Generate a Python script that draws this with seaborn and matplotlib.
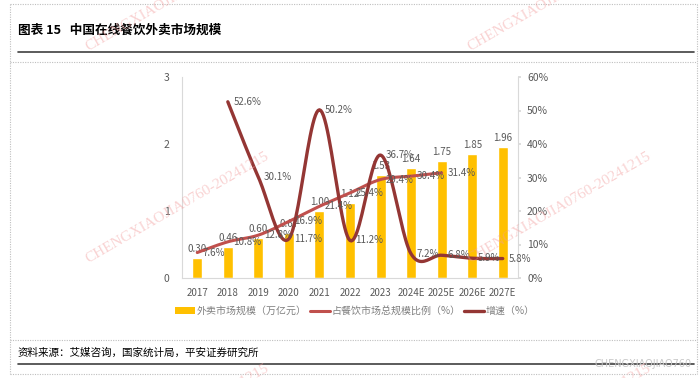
import numpy as np
import matplotlib
matplotlib.use('Agg')
import matplotlib.pyplot as plt
import seaborn as sns
from matplotlib.lines import Line2D
from matplotlib.patches import Patch
from matplotlib.ticker import FuncFormatter

# 数据
years = ['2017', '2018', '2019', '2020', '2021', '2022', '2023', '2024E', '2025E', '2026E', '2027E']
scale = [0.30, 0.46, 0.60, 0.67, 1.00, 1.12, 1.53, 1.64, 1.75, 1.85, 1.96]
share_idx = list(range(0, 9))
share = [7.6, 10.8, 12.8, 16.9, 21.4, 25.4, 29.4, 30.4, 31.4]
growth_idx = list(range(1, 11))
growth = [52.6, 30.1, 11.7, 50.2, 11.2, 36.7, 7.2, 6.8, 5.9, 5.8]

BAR = '#FFC000'
SHARE_C = '#C0504D'
GROWTH_C = '#943634'
TXT = '#595959'
AXC = '#D9D9D9'

sns.set_theme(style='white')
plt.rcParams['font.family'] = ['Noto Sans CJK SC', 'DejaVu Sans']

W, H = 700, 378


def fx(x):
    return x / W


def fy(y):
    return 1 - y / H


def smooth(xv, yv, sx, sy, n=24):
    # excel style smoothed line (catmull-rom bezier), in pixel-ish units
    p = np.column_stack([np.asarray(xv, float) * sx, np.asarray(yv, float) * sy])
    p = np.vstack([p[0], p, p[-1]])
    out = []
    t = np.linspace(0, 1, n)[:, None]
    for i in range(1, len(p) - 2):
        p0, p1, p2, p3 = p[i - 1], p[i], p[i + 1], p[i + 2]
        c1 = p1 + (p2 - p0) / 6
        c2 = p2 - (p3 - p1) / 6
        seg = (1 - t) ** 3 * p1 + 3 * (1 - t) ** 2 * t * c1 + 3 * (1 - t) * t ** 2 * c2 + t ** 3 * p2
        out.append(seg if i == 1 else seg[1:])
    c = np.vstack(out)
    return c[:, 0] / sx, c[:, 1] / sy


fig = plt.figure(figsize=(7, 3.78), dpi=100)
fig.patch.set_facecolor('white')

ax = fig.add_axes([fx(182), fy(278), (518 - 182) / W, (278 - 77) / H])
sns.barplot(x=years, y=scale, color=BAR, saturation=1, width=0.33, ax=ax)
ax.set_ylim(0, 3)
ax.set_xlim(-0.5, len(years) - 0.5)
ax.set_yticks([0, 1, 2, 3])
ax.set_facecolor('none')
for s in ['top', 'right']:
    ax.spines[s].set_visible(False)
for s in ['left', 'bottom']:
    ax.spines[s].set_color(AXC)
    ax.spines[s].set_linewidth(0.8)
ax.tick_params(axis='y', length=0, pad=9, labelsize=7.5, labelcolor=TXT)
ax.tick_params(axis='x', which='major', length=0, pad=7, labelsize=7, labelcolor=TXT)
ax.set_xticks(np.arange(-0.5, len(years)), minor=True)
ax.tick_params(axis='x', which='minor', length=3.5, color=AXC, width=0.8, direction='out')
ax.set_xlabel('')
ax.set_ylabel('')

for i, v in enumerate(scale):
    ax.annotate(f'{v:.2f}', (i, v), xytext=(0, 3), textcoords='offset points',
                ha='center', va='bottom', fontsize=7, color=TXT)

ax2 = ax.twinx()
ax2.set_ylim(0, 60)
ax2.set_yticks(range(0, 61, 10))
ax2.yaxis.set_major_formatter(FuncFormatter(lambda v, p: f'{v:.0f}%'))
for s in ['top', 'left', 'bottom']:
    ax2.spines[s].set_visible(False)
ax2.spines['right'].set_color(AXC)
ax2.spines['right'].set_linewidth(0.8)
ax2.tick_params(axis='y', length=2.5, color=AXC, pad=4, labelsize=7.5, labelcolor=TXT)
ax2.grid(False)
ax.grid(False)

sx = 336 / 11
sy = 201 / 60
xs, ys = smooth(share_idx, share, sx, sy)
sns.lineplot(x=xs, y=ys, ax=ax2, color=SHARE_C, lw=2.2, sort=False, estimator=None)
xg, yg = smooth(growth_idx, growth, sx, sy)
sns.lineplot(x=xg, y=yg, ax=ax2, color=GROWTH_C, lw=2.4, sort=False, estimator=None)
ax2.set_xlim(-0.5, len(years) - 0.5)

for i, v in zip(share_idx, share):
    ax2.annotate(f'{v:.1f}%', (i, v), xytext=(4, 0), textcoords='offset points',
                 ha='left', va='center', fontsize=7, color=TXT)
for i, v in zip(growth_idx, growth):
    ax2.annotate(f'{v:.1f}%', (i, v), xytext=(4, 0), textcoords='offset points',
                 ha='left', va='center', fontsize=7, color=TXT)

handles = [Patch(facecolor=BAR, edgecolor='none'),
           Line2D([], [], color=SHARE_C, lw=2.2),
           Line2D([], [], color=GROWTH_C, lw=2.4)]
labels = ['外卖市场规模（万亿元）', '占餐饮市场总规模比例（%）', '增速（%）']
leg = fig.legend(handles, labels, loc='center', bbox_to_anchor=(fx(355), fy(311)), ncol=3,
                 frameon=False, fontsize=7.2, handlelength=2.0, handleheight=0.6,
                 handletextpad=0.15, columnspacing=0.35, borderpad=0)
for t in leg.get_texts():
    t.set_color('#7F7F7F')

# 标题与来源
fig.text(fx(18), fy(30), '图表 15   中国在线餐饮外卖市场规模', fontsize=9.1, fontweight='bold',
         color='#000000', ha='left', va='center')
fig.add_artist(Line2D([fx(18), fx(694)], [fy(52), fy(52)], color='#404040', lw=1.2))
fig.text(fx(18), fy(353), '资料来源：艾媒咨询，国家统计局，平安证券研究所', fontsize=7.6,
         color='#000000', ha='left', va='center')
fig.add_artist(Line2D([fx(18), fx(694)], [fy(364), fy(364)], color='#404040', lw=1.2))
fig.text(fx(692), fy(364), 'CHENGXIAOJIAO760', fontsize=7, color='#C8C8C8',
         ha='right', va='center', family=['DejaVu Sans'])

# 虚线框
dot = dict(color='#BFBFBF', lw=0.8, ls=(0, (1, 1.2)))
for y in [4, 62, 340, 374]:
    fig.add_artist(Line2D([fx(10), fx(697)], [fy(y), fy(y)], **dot))
for x in [10, 697]:
    fig.add_artist(Line2D([fx(x), fx(x)], [fy(4), fy(374)], **dot))

# 水印
for wx in [88, 470]:
    for wy in [51, 263, 475]:
        fig.text(fx(wx), fy(wy), 'CHENGXIAOJIA0760-20241215', fontsize=11, rotation=30,
                 rotation_mode='anchor', ha='left', va='baseline', color='#F29C9C',
                 alpha=0.45, family=['Liberation Serif'])

fig.savefig('out.png', dpi=100, facecolor='white')
